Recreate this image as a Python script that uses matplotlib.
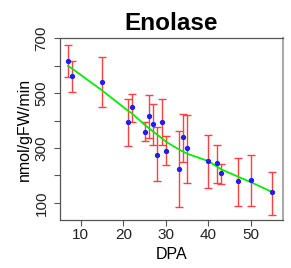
import matplotlib
matplotlib.use("Agg")
import matplotlib.pyplot as plt
import numpy as np

plt.rcParams["font.family"] = ["Liberation Sans", "DejaVu Sans"]

# ---------------------------
# DATA
# ---------------------------
dpa = [7, 8, 15, 21, 22, 25, 26, 27, 28, 29, 30, 33, 34, 35, 40, 42, 43, 47, 50, 55]
activity = [618, 562, 542, 395, 448, 359, 415, 387, 276, 395, 290, 225, 339, 300,
            252, 244, 207, 179, 183, 138]
err_top = [674, 616, 633, 480, 498, 394, 492, 461, 375, 477, 342, 363, 425, 420,
           348, 311, 242, 263, 276, 213]
err_bottom = [558, 503, 448, 307, 393, 324, 336, 309, 178, 309, 237, 85, 250, 173,
              155, 173, 169, 90, 90, 55]
fit = [599, 589, 510, 437, 426, 385, 372, 360, 348, 336, 323, 295, 287, 279,
       252, 232, 222, 195, 175, 139]

x = np.array(dpa)
y = np.array(activity)
lower = y - np.array(err_bottom)
upper = np.array(err_top) - y

# ---------------------------
# PLOT
# ---------------------------
fig = plt.figure(figsize=(2.91, 2.68), dpi=100)
ax = fig.add_axes([0.206, 0.179, 0.766, 0.679])

ax.errorbar(x, y, yerr=[lower, upper], fmt="none", ecolor="#ff4040",
            elinewidth=1.0, capsize=3.0, capthick=1.0, zorder=2)
ax.plot(x, fit, color="#00ee00", linewidth=1.3, zorder=3)
ax.plot(x, y, "o", color="#2020ee", markersize=2.8, zorder=4)

ax.set_xlim(5.1, 57.5)
ax.set_ylim(37, 701)
ax.set_xticks([10, 20, 30, 40, 50])
ax.set_yticks([100, 300, 500, 700])
ax.set_yticks([200, 400, 600], minor=True)
ax.tick_params(axis="both", which="both", direction="out", length=4.3,
               width=0.8, colors="#555555", labelcolor="#222222", labelsize=11)
ax.tick_params(axis="x", pad=1.5)
ax.tick_params(axis="y", pad=4)
plt.setp(ax.get_yticklabels(), rotation=90, va="center")

for s in ax.spines.values():
    s.set_color("#555555")
    s.set_linewidth(0.9)
ax.spines["right"].set_color("#aaaaaa")
ax.spines["right"].set_linewidth(1.5)

ax.set_xlabel("DPA", fontsize=11.5)
ax.set_ylabel("nmol/gFW/min", fontsize=11.5)
ax.xaxis.set_label_coords(0.5, -0.187)
ax.yaxis.set_label_coords(-0.161, 0.5)
ax.xaxis.label.set_va("center")
ax.yaxis.label.set_va("center")
ax.set_title("Enolase", fontsize=17.5, fontweight="bold", pad=6)

fig.savefig("out.png", dpi=100)
